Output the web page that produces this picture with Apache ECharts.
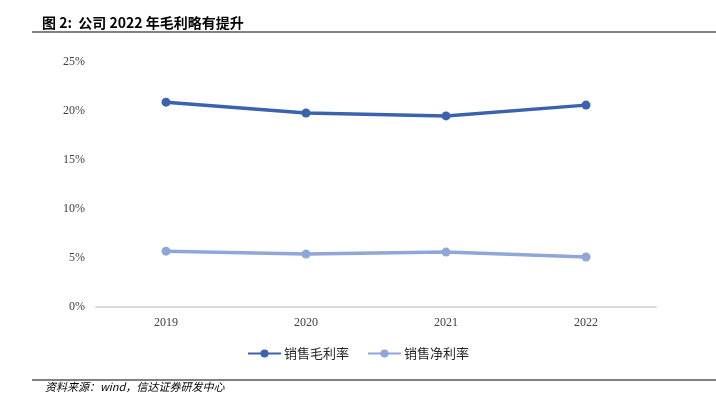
<!DOCTYPE html>
<html>
<head>
<meta charset="utf-8">
<script src="https://cdn.jsdelivr.net/npm/echarts@6/dist/echarts.min.js"></script>
<style>
  html, body { margin: 0; padding: 0; background: #fff; }
  #chart { width: 716px; height: 393px; }
</style>
</head>
<body>
<div id="chart"></div>
<script>
const years = ['2019', '2020', '2021', '2022']
const grossMargin = [20.9, 19.8, 19.5, 20.6]
const netMargin = [5.7, 5.4, 5.6, 5.1]

const myChart = echarts.init(document.getElementById('chart'))

let option = {
  animation: false,
  title: {
    text: '图 2:  公司 2022 年毛利略有提升',
    left: 37,
    top: 11,
    textStyle: {
      fontSize: 14,
      fontWeight: 'bold',
      color: '#000',
      fontFamily: 'Noto Sans CJK SC'
    }
  },
  graphic: [
    {
      type: 'line',
      shape: {x1: 32, y1: 32, x2: 716, y2: 32},
      style: {stroke: '#808080', lineWidth: 2}
    },
    {
      type: 'line',
      shape: {x1: 32, y1: 380, x2: 716, y2: 380},
      style: {stroke: '#808080', lineWidth: 2}
    },
    {
      type: 'text',
      left: 45,
      top: 381,
      style: {
        text: '资料来源：wind，信达证券研发中心',
        fontSize: 11,
        fontStyle: 'italic',
        fill: '#000',
        fontFamily: 'Noto Sans CJK SC'
      }
    }
  ],
  color: ['#3b62ad', '#8fa6d8'],
  grid: {
    left: 96,
    right: 60,
    top: 62,
    bottom: 86
  },
  legend: {
    top: 342,
    left: 'center',
    itemWidth: 33,
    itemHeight: 10,
    itemGap: 18,
    textStyle: {
      fontSize: 13,
      color: '#262626',
      fontFamily: 'Noto Sans CJK SC',
      padding: [0, 0, 0, -2]
    },
    data: ['销售毛利率', '销售净利率']
  },
  xAxis: {
    type: 'category',
    data: years,
    axisTick: {show: false},
    axisLine: {
      lineStyle: {color: '#d9d9d9', width: 2}
    },
    axisLabel: {
      color: '#404040',
      fontSize: 12,
      fontFamily: 'Liberation Serif',
      margin: 10
    }
  },
  yAxis: {
    type: 'value',
    min: 0,
    max: 25,
    interval: 5,
    splitLine: {show: false},
    axisLine: {show: false},
    axisTick: {show: false},
    axisLabel: {
      color: '#404040',
      fontSize: 12,
      fontFamily: 'Liberation Serif',
      margin: 11,
      formatter: '{value}%'
    }
  },
  series: [
    {
      name: '销售毛利率',
      type: 'line',
      symbol: 'circle',
      symbolSize: 9,
      lineStyle: {width: 3.5},
      data: grossMargin
    },
    {
      name: '销售净利率',
      type: 'line',
      symbol: 'circle',
      symbolSize: 9,
      lineStyle: {width: 3.5},
      data: netMargin
    }
  ]
}
myChart.setOption(option)
</script>
</body>
</html>
